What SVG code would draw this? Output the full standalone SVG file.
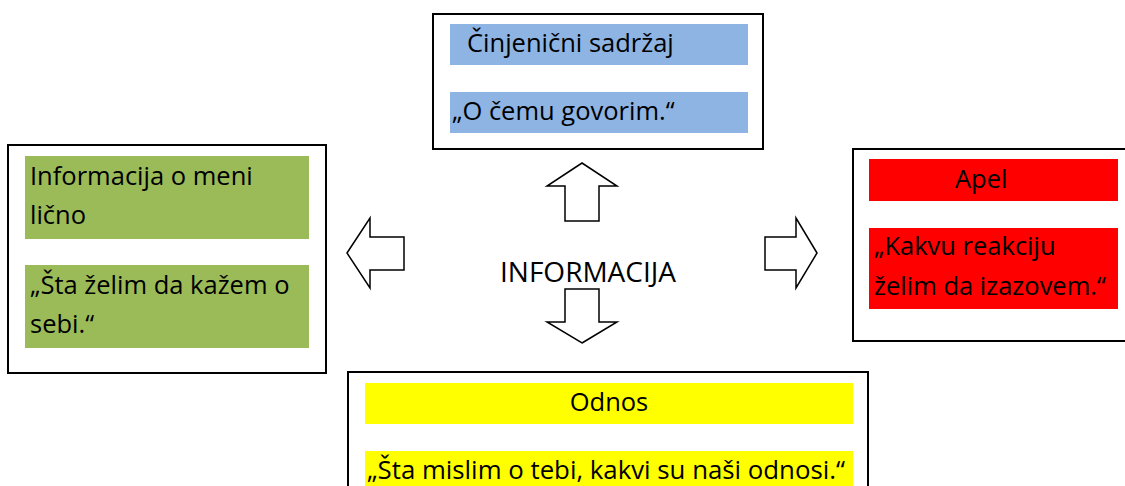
<svg xmlns="http://www.w3.org/2000/svg" width="1125" height="486" viewBox="0 0 1125 486">
<style>
.box{fill:#fff;stroke:#000;stroke-width:2}
.t{font-family:"Open Sans","Liberation Sans",sans-serif;font-size:25.5px;fill:#000}
.arr{fill:#fff;stroke:#000;stroke-width:1.5;stroke-linejoin:miter}
</style>
<rect width="1125" height="486" fill="#fff"/>
<g id="node-top">
<rect class="box" x="433" y="14" width="330" height="135"/>
<rect x="450" y="24" width="298" height="41" fill="#8EB4E3"/>
<rect x="450" y="92" width="298" height="41" fill="#8EB4E3"/>
<text class="t" x="467" y="52">Činjenični sadržaj</text>
<text class="t" x="452" y="120">„O čemu govorim.“</text>
</g>
<g id="node-left">
<rect class="box" x="8" y="145" width="318" height="228"/>
<rect x="25" y="156" width="284" height="83" fill="#9BBB59"/>
<rect x="25" y="265" width="284" height="83" fill="#9BBB59"/>
<text class="t" x="30" y="185">Informacija o meni</text>
<text class="t" x="30" y="224">lično</text>
<text class="t" x="30" y="294">„Šta želim da kažem o</text>
<text class="t" x="30" y="333">sebi.“</text>
</g>
<g id="node-right">
<rect class="box" x="853" y="149" width="290" height="192"/>
<rect x="869" y="159" width="249" height="42" fill="#FF0000"/>
<rect x="869" y="228" width="249" height="81" fill="#FF0000"/>
<text class="t" x="955" y="188">Apel</text>
<text class="t" x="874" y="255">„Kakvu reakciju</text>
<text class="t" x="874" y="295">želim da izazovem.“</text>
</g>
<g id="node-bottom">
<rect class="box" x="348" y="372" width="520" height="130"/>
<rect x="365" y="383" width="488" height="41" fill="#FFFF00"/>
<rect x="365" y="451" width="488" height="40" fill="#FFFF00"/>
<text class="t" x="609" y="411" text-anchor="middle">Odnos</text>
<text class="t" x="367" y="479" style="font-size:25.8px">„Šta mislim o tebi, kakvi su naši odnosi.“</text>
</g>
<g id="node-center">
<text class="t" x="500" y="282" style="font-size:28px">INFORMACIJA</text>
</g>
<g id="connectors">
<polygon class="arr" points="582,163 617,186 599,186 599,221 565,221 565,186 547,186"/>
<polygon class="arr" points="582,343 617,322 599,322 599,289 565,289 565,322 547,322"/>
<polygon class="arr" points="347,253 370,218 370,237 404,237 404,270 370,270 370,288"/>
<polygon class="arr" points="817,253 796,218 796,237 765,237 765,270 796,270 796,288"/>
</g>
</svg>
